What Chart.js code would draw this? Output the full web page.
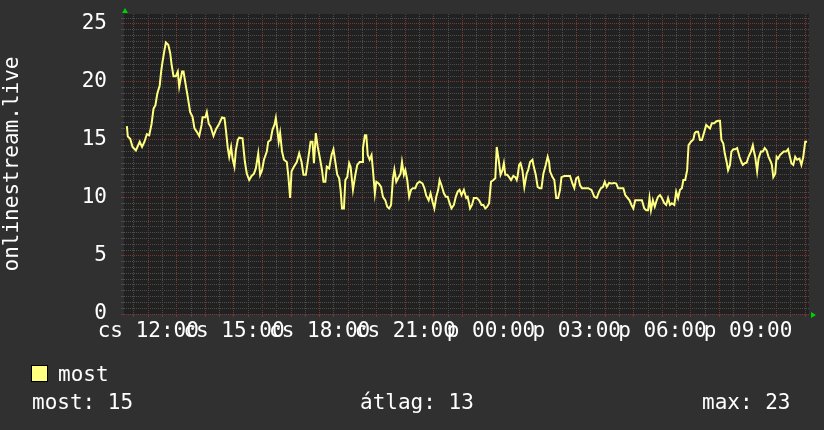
<!DOCTYPE html>
<html>
<head>
<meta charset="utf-8">
<script src="https://cdn.jsdelivr.net/npm/chart.js@4.4.0/dist/chart.umd.min.js"></script>
<style>
  html, body { margin: 0; padding: 0; background: #303030; }
  #wrap { width: 824px; height: 430px; }
</style>
</head>
<body>
<div id="wrap"><canvas id="graph" width="824" height="430"></canvas></div>
<script>
// minutes since 00:00 of the first day (cs)
const minutes = [
  675, 677, 682, 687, 694, 702, 707, 712, 717, 722, 727, 731, 735, 739, 744, 747, 750, 754, 757, 762,
  766, 769, 773, 778, 782, 785, 791, 794, 798, 803, 808, 813, 817, 822, 827, 832, 834, 840, 843, 847,
  851, 857, 862, 869, 875, 880, 883, 887, 890, 894, 897, 901, 904, 908, 911, 918, 923, 927, 932, 937,
  942, 946, 951, 955, 959, 963, 969, 972, 977, 981, 985, 988, 991, 994, 997, 1001, 1005, 1011, 1014, 1018,
  1021, 1026, 1032, 1037, 1042, 1046, 1051, 1056, 1061, 1065, 1068, 1072, 1076, 1080, 1085, 1088, 1092, 1095, 1100, 1105,
  1109, 1113, 1117, 1121, 1124, 1127, 1131, 1134, 1138, 1142, 1145, 1150, 1155, 1159, 1164, 1169, 1171, 1175, 1178, 1181,
  1185, 1189, 1192, 1196, 1199, 1204, 1209, 1213, 1218, 1222, 1226, 1230, 1234, 1237, 1241, 1246, 1250, 1253, 1257, 1260,
  1264, 1268, 1272, 1276, 1281, 1285, 1290, 1296, 1300, 1304, 1309, 1313, 1317, 1321, 1325, 1329, 1332, 1336, 1341, 1345,
  1349, 1353, 1357, 1362, 1366, 1370, 1374, 1378, 1383, 1384, 1388, 1391, 1396, 1400, 1404, 1410, 1415, 1420, 1424, 1428,
  1432, 1436, 1440, 1445, 1449, 1452, 1456, 1460, 1464, 1467, 1470, 1474, 1478, 1482, 1487, 1491, 1494, 1496, 1499, 1502,
  1506, 1510, 1515, 1518, 1522, 1527, 1529, 1534, 1538, 1542, 1546, 1550, 1555, 1559, 1562, 1564, 1569, 1573, 1577, 1581,
  1585, 1588, 1594, 1601, 1606, 1611, 1615, 1619, 1623, 1627, 1631, 1637, 1644, 1651, 1657, 1662, 1667, 1671, 1675, 1679,
  1683, 1688, 1693, 1699, 1703, 1707, 1713, 1718, 1722, 1727, 1731, 1735, 1739, 1743, 1748, 1753, 1757, 1762, 1766, 1770,
  1773, 1776, 1780, 1784, 1788, 1791, 1795, 1799, 1804, 1808, 1812, 1816, 1820, 1825, 1829, 1833, 1837, 1841, 1844, 1848,
  1852, 1855, 1860, 1865, 1868, 1871, 1875, 1879, 1883, 1888, 1892, 1896, 1900, 1904, 1909, 1913, 1917, 1921, 1924, 1928,
  1931, 1935, 1938, 1942, 1945, 1949, 1953, 1957, 1962, 1966, 1969, 1973, 1977, 1981, 1986, 1990, 1992, 1995, 1999, 2002,
  2007, 2011, 2015, 2019, 2023, 2028, 2030, 2033, 2037, 2040, 2043, 2047, 2051, 2055, 2060, 2064, 2067, 2071, 2075, 2079,
  2083, 2088, 2092, 2096, 2100, 2104
];
const viewers = [
  16.2, 15.3, 15.1, 14.4, 14.1, 14.85, 14.4, 14.85, 15.5, 15.4, 16.4, 17.7, 18.0, 19.0, 19.7, 20.9, 21.75, 22.75, 23.4, 23.2,
  22.5, 21.5, 20.5, 20.5, 20.9, 19.6, 20.9, 20.9, 19.9, 18.7, 17.4, 17.0, 16.0, 15.7, 15.35, 16.3, 16.95, 16.95, 17.4, 16.4,
  16.15, 15.35, 15.9, 16.4, 16.95, 16.9, 15.9, 14.3, 13.55, 14.4, 13.4, 12.7, 14.1, 15.0, 15.2, 15.15, 13.1, 12.1, 11.55, 11.9,
  12.1, 12.55, 13.85, 12.0, 12.4, 13.3, 14.0, 14.85, 15.0, 15.9, 16.3, 16.9, 15.9, 14.85, 15.6, 14.0, 13.3, 13.1, 12.0, 10.0,
  12.3, 12.7, 13.1, 13.85, 13.1, 12.0, 12.0, 13.4, 14.85, 14.85, 13.0, 15.6, 14.4, 13.55, 12.4, 11.4, 11.4, 12.7, 12.55, 13.7,
  14.2, 13.1, 12.0, 11.7, 10.7, 9.1, 9.1, 11.55, 11.8, 13.0, 12.7, 10.7, 12.0, 12.85, 13.1, 13.1, 14.3, 15.4, 15.4, 13.7,
  13.3, 13.7, 12.4, 10.4, 11.4, 11.25, 10.95, 10.1, 9.8, 9.25, 9.1, 9.4, 11.7, 12.45, 11.4, 11.8, 12.1, 13.1, 12.0, 12.4,
  11.55, 10.1, 10.7, 10.85, 10.85, 11.25, 11.4, 11.25, 10.85, 10.2, 9.8, 10.4, 9.7, 9.1, 10.1, 10.7, 11.55, 11.1, 10.4, 10.1,
  10.1, 9.55, 9.1, 9.4, 10.1, 10.55, 10.7, 10.25, 10.7, 10.55, 10.0, 10.1, 9.1, 9.4, 10.0, 10.0, 9.8, 9.4, 9.4, 9.1,
  9.25, 9.55, 11.4, 11.55, 11.7, 14.4, 13.3, 12.0, 12.4, 13.0, 12.0, 12.0, 11.8, 11.55, 11.9, 11.8, 11.55, 11.9, 12.85, 13.0,
  12.4, 10.95, 12.1, 12.4, 13.1, 13.3, 12.85, 12.0, 10.95, 10.85, 10.85, 12.1, 12.85, 13.55, 13.1, 12.3, 11.8, 11.55, 10.0, 10.0,
  10.7, 11.8, 11.9, 11.9, 11.9, 11.25, 10.85, 11.7, 11.8, 11.1, 10.85, 10.85, 10.85, 10.7, 10.1, 10.0, 10.55, 10.85, 10.95, 11.4,
  10.95, 11.3, 11.25, 11.3, 11.25, 10.85, 10.85, 10.85, 10.25, 10.0, 9.8, 9.4, 9.1, 9.8, 9.8, 9.8, 9.8, 9.1, 8.95, 8.95,
  10.0, 8.95, 9.8, 9.25, 9.8, 10.1, 10.25, 10.0, 9.55, 9.4, 10.0, 9.4, 9.55, 9.4, 10.55, 10.0, 10.7, 10.85, 11.55, 11.55,
  12.4, 14.55, 14.85, 15.05, 15.6, 15.7, 15.7, 15.0, 15.0, 15.7, 16.3, 16.15, 16.0, 16.45, 16.45, 16.6, 16.65, 16.65, 15.0, 14.7,
  13.85, 13.1, 12.4, 12.85, 14.0, 14.2, 14.2, 14.3, 13.55, 13.1, 12.85, 13.0, 13.05, 13.55, 14.0, 14.55, 14.1, 13.55, 12.3, 13.4,
  14.0, 14.0, 14.3, 14.1, 13.55, 13.1, 12.85, 11.8, 12.1, 13.55, 13.4, 13.7, 13.85, 14.0, 14.0, 14.2, 13.7, 13.0, 12.85, 13.55,
  13.3, 13.4, 12.85, 13.55, 14.85, 14.85
];
const tickMinutes = [720, 900, 1080, 1260, 1440, 1620, 1800, 1980];
const tickLabels = ['cs 12:00', 'cs 15:00', 'cs 18:00', 'cs 21:00', 'p 00:00', 'p 03:00', 'p 06:00', 'p 09:00'];
const yLabels = [0, 5, 10, 15, 20, 25];
const seriesName = 'most';
const axisTitle = 'onlinestream.live';
const statNames = ['most', 'átlag', 'max'];
const statValues = [15, 13, 23];

const monoFont = { family: 'DejaVu Sans Mono', size: 21 };
const majorGrid = '#7a3535';
const minorGrid = '#4c4c4c';

const rrdLook = {
  id: 'rrdLook',
  beforeDraw(chart) {
    const { ctx, chartArea: a } = chart;
    ctx.save();
    ctx.fillStyle = '#212121';
    ctx.fillRect(a.left, a.top, a.right - a.left, a.bottom - a.top);
    ctx.restore();
  },
  afterDraw(chart) {
    const { ctx, chartArea: a } = chart;
    ctx.save();
    // axis arrows
    ctx.fillStyle = '#00d000';
    ctx.beginPath();
    ctx.moveTo(a.left + 1, a.top - 6);
    ctx.lineTo(a.left - 2, a.top - 1);
    ctx.lineTo(a.left + 4, a.top - 1);
    ctx.fill();
    ctx.beginPath();
    ctx.moveTo(a.right + 7, a.bottom + 1);
    ctx.lineTo(a.right + 2, a.bottom - 2);
    ctx.lineTo(a.right + 2, a.bottom + 4);
    ctx.fill();

    // legend
    ctx.font = '21px "DejaVu Sans Mono"';
    ctx.textBaseline = 'alphabetic';
    ctx.fillStyle = '#ffff80';
    ctx.fillRect(32, 366, 15, 15);
    ctx.strokeStyle = '#000';
    ctx.lineWidth = 1;
    ctx.strokeRect(31.5, 365.5, 16, 16);
    ctx.fillStyle = '#ffffff';
    ctx.fillText(seriesName, 58, 381);

    // statistics line
    const xs = [32, 360, 702];
    statNames.forEach((n, i) => ctx.fillText(n + ': ' + statValues[i], xs[i], 409));
    ctx.restore();
  }
};

new Chart(document.getElementById('graph'), {
  type: 'line',
  data: {
    datasets: [{
      label: seriesName,
      data: minutes.map((m, i) => ({ x: m, y: viewers[i] })),
      borderColor: '#ffff80',
      borderWidth: 2,
      pointRadius: 0,
      tension: 0,
      fill: false
    }]
  },
  options: {
    responsive: false,
    animation: false,
    devicePixelRatio: 1,
    layout: { padding: { left: 0, right: 15, top: 14, bottom: 86 } },
    plugins: { legend: { display: false }, tooltip: { enabled: false } },
    scales: {
      x: {
        type: 'linear',
        min: 669,
        max: 2108,
        afterBuildTicks: s => {
          const t = [];
          for (let m = 690; m <= 2100; m += 30) t.push({ value: m });
          s.ticks = t;
        },
        afterFit: s => {
          s.height = 30;
          s.paddingLeft = 0;
          s.paddingRight = 0;
        },
        border: { display: false, dash: [1, 1] },
        grid: {
          color: c => (c.tick && c.tick.value % 60 === 0) ? majorGrid : minorGrid,
          tickLength: 3
        },
        ticks: {
          autoSkip: false,
          maxRotation: 0,
          minRotation: 0,
          color: '#ffffff',
          font: monoFont,
          padding: 2,
          callback: v => {
            const i = tickMinutes.indexOf(v);
            return i >= 0 ? tickLabels[i] : '';
          }
        }
      },
      y: {
        min: 0,
        max: 25.86,
        afterBuildTicks: s => {
          const t = [];
          for (let v = 0; v <= 25.5; v += 0.5) t.push({ value: v });
          s.ticks = t;
        },
        afterFit: s => {
          s.width = 124;
          s.paddingTop = 0;
          s.paddingBottom = 0;
        },
        border: { display: false, dash: [1, 1] },
        grid: {
          color: c => (c.tick && c.tick.value % 5 === 0) ? majorGrid : minorGrid,
          tickLength: 3
        },
        ticks: {
          autoSkip: false,
          color: '#ffffff',
          font: monoFont,
          padding: 14,
          callback: v => yLabels.includes(v) ? String(v) : ''
        },
        title: {
          display: true,
          text: axisTitle,
          color: '#ffffff',
          font: monoFont,
          padding: 0
        }
      }
    }
  },
  plugins: [rrdLook]
});
</script>
</body>
</html>
